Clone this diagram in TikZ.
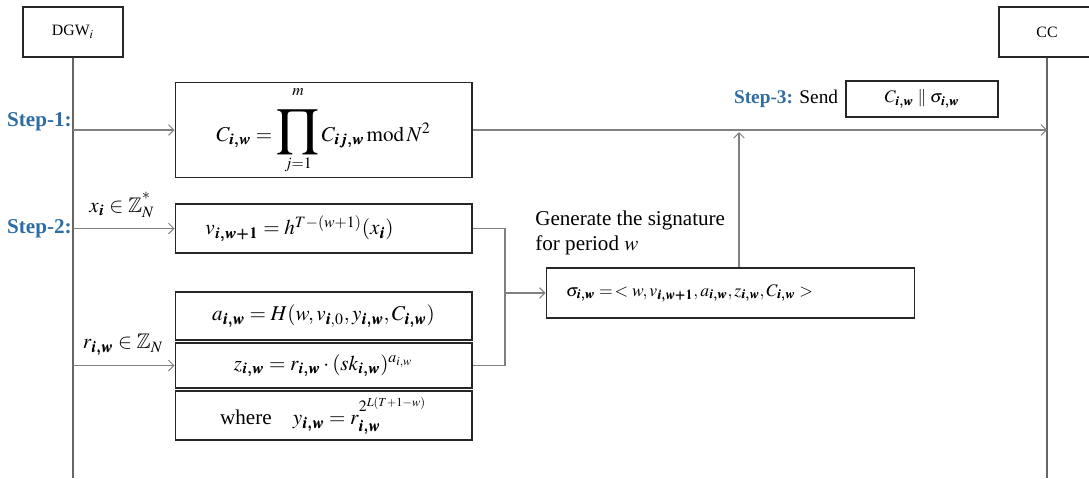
\documentclass[tikz,border=0pt]{standalone}
\usepackage{amsmath,amssymb}
\usepackage{mathptmx}
\usepackage{bm}
\usepackage{fontspec}
\setmainfont{Liberation Serif}
\usetikzlibrary{positioning, arrows.meta}
\definecolor{stepblue}{RGB}{46,108,164}
\definecolor{linegray}{RGB}{128,128,128}
\tikzset{
  box/.style={draw=black!85, line width=0.6pt, fill=white, inner sep=2pt},
  actor/.style={box, minimum width=2cm, minimum height=1cm, font=\small},
  calcbox/.style={box, minimum width=5.94cm, font=\large},
  msg/.style={draw=linegray, line width=0.6pt, -{Straight Barb[length=3pt,width=6pt]}},
  life/.style={draw=linegray!80!black, line width=0.6pt},
  steplabel/.style={font=\large\bfseries, text=stepblue, inner sep=0pt}
}
\newcommand{\bs}[1]{\bm{#1}}
\newcommand{\bigprd}{\mathop{\text{\scalebox{1.7}{$\displaystyle\prod$}}}\limits}
\begin{document}
\begin{tikzpicture}[x=0.02cm, y=-0.02cm]
  \useasboundingbox (0,0) rectangle (1089,478);
  % actors and lifelines
  \node[actor] (dgw) at (73,32) {DGW$_{i}$};
  \node[actor, minimum width=1.92cm] (cc) at (1047,32) {CC};
  \coordinate (dgwend) at (73,478);
  \coordinate (ccend) at (1047,478);
  \draw[life] (dgw.south) -- (dgwend);
  \draw[life] (cc.south) -- (ccend);
  % step 1
  \node[calcbox, minimum height=1.84cm] (cbox) at (323.5,130)
    {$C_{\bs{i,w}} = \bigprd_{j=1}^{\raisebox{6pt}{$\scriptstyle m$}} C_{\bs{ij,w}}\,\mathrm{mod}\,N^{2}$};
  \node[steplabel, anchor=east] (step1) at (72,122) {Step-1:};
  \draw[msg] (cbox.west -| dgw) -- (cbox.west);
  \draw[msg] (cbox.east) -- (cbox.east -| cc);
  % step 2
  \node[calcbox, minimum height=0.98cm] (vbox) at (323.5,228.5)
    {$v_{\bs{i,w+1}} = h^{T-(w+1)}(x_{\bs{i}})$\rule{0.96cm}{0pt}};
  \node[calcbox, minimum height=0.96cm] (abox) at (323.5,316)
    {$a_{\bs{i,w}} = H(w, v_{\bs{i},0}, y_{\bs{i,w}}, C_{\bs{i,w}})$};
  \node[calcbox, minimum height=0.9cm] (zbox) at (323.5,365.5)
    {$z_{\bs{i,w}} = r_{\bs{i,w}}\cdot(sk_{\bs{i,w}})^{a_{i,w}}$};
  \node[calcbox, minimum height=0.98cm] (wbox) at (323.5,415.5)
    {where\quad $y_{\bs{i,w}} = r_{\bs{i,w}}^{\raisebox{3pt}{$\scriptstyle 2^{L(T+1-w)}$}}$};
  \node[steplabel, anchor=east] (step2) at (72,229) {Step-2:};
  \node[font=\large] (xlab) at (122,205) {$x_{\bs{i}} \in \mathbb{Z}_{N}^{\raisebox{3pt}{$\scriptstyle *$}}$};
  \node[font=\large] (rlab) at (123,345) {$r_{\bs{i,w}} \in \mathbb{Z}_N$};
  \draw[msg] (vbox.west -| dgw) -- (vbox.west);
  \draw[msg] (zbox.west -| dgw) -- (zbox.west);
  % signature
  \node[box, minimum width=7.38cm, minimum height=1cm] (sbox) at (730.5,293)
    {$\sigma_{\bs{i,w}} = \,< w, v_{\bs{i,w+1}}, a_{\bs{i,w}}, z_{\bs{i,w}}, C_{\bs{i,w}} >$\rule{1.64cm}{0pt}};
  \node[anchor=north west, align=left, font=\large, inner sep=0pt] (gen) at (535,211)
    {Generate the signature\\for period $w$};
  \coordinate (jn) at (505,293);
  \draw[linegray, line width=0.6pt] (vbox.east) -| (jn) |- (zbox.east);
  \draw[msg] (jn) -- (jn -| sbox.west);
  % step 3
  \node[box, minimum width=3.04cm, minimum height=0.72cm] (send) at (922,99)
    {$C_{\bs{i,w}} \parallel \sigma_{\bs{i,w}}$};
  \node[left=0.14cm of send, inner sep=0pt, font=\fontsize{11}{13}\selectfont] (step3)
    {\textcolor{stepblue}{\bfseries Step-3:} Send};
  \coordinate (up) at (739,132);
  \draw[msg] (sbox.north -| up) -- (up);
\end{tikzpicture}
\end{document}
